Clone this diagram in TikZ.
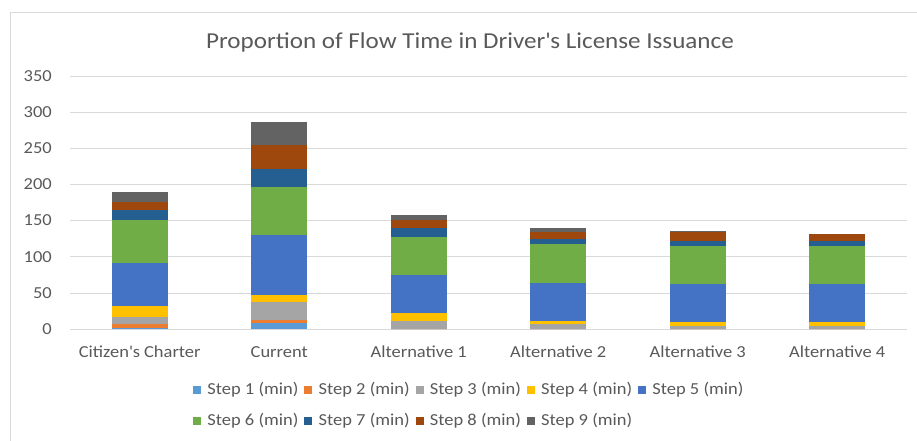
\documentclass[tikz,border=0pt]{standalone}
\usepackage{fontspec}
\setmainfont{Carlito}[FakeStretch=1.1]

% Office colours for the nine steps
\definecolor{stepcolor1}{HTML}{5B9BD5}
\definecolor{stepcolor2}{HTML}{ED7D31}
\definecolor{stepcolor3}{HTML}{A5A5A5}
\definecolor{stepcolor4}{HTML}{FFC000}
\definecolor{stepcolor5}{HTML}{4472C4}
\definecolor{stepcolor6}{HTML}{70AD47}
\definecolor{stepcolor7}{HTML}{255E91}
\definecolor{stepcolor8}{HTML}{9E480E}
\definecolor{stepcolor9}{HTML}{636363}
\definecolor{labelgray}{HTML}{595959}
\definecolor{gridgray}{HTML}{D9D9D9}

% one stacked bar: centre x, nine step values
\newcommand{\stackbar}[2]{%
  \xdef\barbase{0}%
  \foreach \v [count=\i] in {#2}{%
    \pgfmathsetmacro{\bartop}{\barbase+\v}%
    \fill[stepcolor\i] (#1-28,{329-0.7234*\barbase}) rectangle (#1+28,{329-0.7234*\bartop});%
    \xdef\barbase{\bartop}%
  }%
}

\begin{document}
\begin{tikzpicture}[x=1pt,y=-1pt,
    axislabel/.style={text=labelgray, font=\fontsize{16.8}{20}\selectfont, inner sep=0pt},
    legendbox/.style={minimum size=8pt, inner sep=0pt}]
  \useasboundingbox (0,0) rectangle (917,441);

  % chart frame
  \draw[gridgray] (10,441) -- (10,12) -- (917,12);

  % title
  \node[text=labelgray, font=\fontsize{22.8}{27}\selectfont] (title) at (470,42)
    {Proportion of Flow Time in Driver\textquotesingle s License Issuance};

  % gridlines and y labels
  \foreach \val in {0,50,...,350}{
    \draw[gridgray] (70,{329-0.7234*\val}) -- (907,{329-0.7234*\val});
    \node[axislabel, anchor=east] (ylab\val) at (52,{329-0.7234*\val}) {\val};
  }

  % the stacked bars
  \stackbar{139.75}{1,6,9,16,59,59,15,10,15}
  \stackbar{279.25}{8,5,25,9,83,66,25,34,31}
  \stackbar{418.75}{0,0,11,11,53,52,13,10,8}
  \stackbar{558.25}{0,0,7,4,53,53,8,9,5}
  \stackbar{697.75}{0,0,4,5,53,53,7,12,2}
  \stackbar{837.25}{0,0,4,5,53,53,7,10,0}

  % category labels
  \node[axislabel] (cat1) at (139.75,352) {Citizen\textquotesingle s Charter};
  \node[axislabel] (cat2) at (279.25,352) {Current};
  \node[axislabel] (cat3) at (418.75,352) {Alternative 1};
  \node[axislabel] (cat4) at (558.25,352) {Alternative 2};
  \node[axislabel] (cat5) at (697.75,352) {Alternative 3};
  \node[axislabel] (cat6) at (837.25,352) {Alternative 4};

  % legend, two rows
  \foreach \i in {1,...,5}{
    \node[legendbox, fill=stepcolor\i] (key\i) at ({197+111.25*(\i-1)},390) {};
    \node[axislabel, anchor=west] (leg\i) at ([xshift=6pt]key\i.east) {Step \i{} (min)};
  }
  \foreach \i in {6,...,9}{
    \node[legendbox, fill=stepcolor\i] (key\i) at ({197+111.25*(\i-6)},421) {};
    \node[axislabel, anchor=west] (leg\i) at ([xshift=6pt]key\i.east) {Step \i{} (min)};
  }
\end{tikzpicture}
\end{document}
